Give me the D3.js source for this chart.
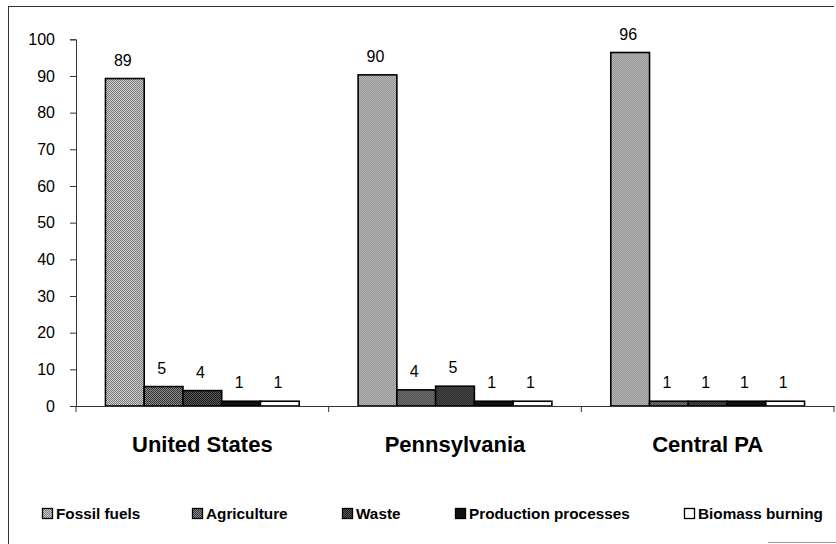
<!DOCTYPE html>
<html><head><meta charset="utf-8">
<script src="https://cdn.jsdelivr.net/npm/d3@7"></script>
<style>body{margin:0;background:#fff}svg{display:block;font-family:"Liberation Sans",Arial,sans-serif}</style>
</head><body>
<svg id="c" width="836" height="544"></svg>
<script>
const categories = ["United States", "Pennsylvania", "Central PA"];
const seriesNames = ["Fossil fuels", "Agriculture", "Waste", "Production processes", "Biomass burning"];
const fossilFuels = [89.3, 90.3, 96.4];
const agriculture = [5.3, 4.4, 1.3];
const waste = [4.2, 5.4, 1.3];
const productionProcesses = [1.3, 1.3, 1.3];
const biomassBurning = [1.3, 1.3, 1.3];
const yTicks = [0, 10, 20, 30, 40, 50, 60, 70, 80, 90, 100];

const seriesValues = [fossilFuels, agriculture, waste, productionProcesses, biomassBurning];
const fills = ["url(#pFossil)", "url(#pAgri)", "url(#pWaste)", "#111", "#fff"];

const svg = d3.select("#c");
const defs = svg.append("defs");
function checker(id, a, b) {
  const p = defs.append("pattern").attr("id", id).attr("width", 2).attr("height", 2).attr("patternUnits", "userSpaceOnUse");
  p.append("rect").attr("width", 2).attr("height", 2).attr("fill", a);
  p.append("rect").attr("width", 1).attr("height", 1).attr("fill", b);
  p.append("rect").attr("x", 1).attr("y", 1).attr("width", 1).attr("height", 1).attr("fill", b);
}
checker("pFossil", "#d0d0d0", "#7a7a7a");
checker("pAgri", "#8c8c8c", "#333");
checker("pWaste", "#5a5a5a", "#1a1a1a");

// frame (scanned border: top, left, partial bottom)
svg.append("line").attr("x1", 8).attr("x2", 834).attr("y1", 6.5).attr("y2", 6.5).attr("stroke", "#333");
svg.append("line").attr("x1", 8.5).attr("x2", 8.5).attr("y1", 6).attr("y2", 544).attr("stroke", "#333");
svg.append("line").attr("x1", 768).attr("x2", 836).attr("y1", 542.5).attr("y2", 542.5).attr("stroke", "#999");

const mLeft = 76, mRight = 834, mTop = 39.3, mBottom = 406;
const x0 = d3.scaleBand().domain(categories).range([mLeft, mRight]).paddingInner(0).paddingOuter(0);
const x1 = d3.scaleBand().domain(seriesNames).range([0, x0.bandwidth()]).paddingOuter(0.76).paddingInner(0);
const y = d3.scaleLinear().domain([0, 100]).range([mBottom, mTop]);

// y axis
const yAxis = svg.append("g").attr("transform", `translate(${mLeft},0)`)
  .call(d3.axisLeft(y).tickValues(yTicks).tickSize(6).tickPadding(15));
yAxis.select(".domain").attr("stroke", "#333");
yAxis.selectAll(".tick line").attr("stroke", "#333");
yAxis.selectAll("text").attr("font-size", 16).attr("fill", "#000").attr("font-family", "Liberation Sans, Arial, sans-serif");

// bars
const groups = svg.append("g").selectAll("g").data(categories).join("g")
  .attr("transform", d => `translate(${x0(d)},0)`);
groups.each(function(cat, ci) {
  const g = d3.select(this);
  seriesNames.forEach((s, si) => {
    const v = seriesValues[si][ci];
    g.append("rect").attr("x", x1(s)).attr("y", y(v)).attr("width", x1.bandwidth()).attr("height", y(0) - y(v))
      .attr("fill", fills[si]).attr("stroke", "#000").attr("stroke-width", 1.6);
    g.append("text").attr("x", x1(s) + x1.bandwidth() / 2 - 2).attr("y", y(v) - 13)
      .attr("text-anchor", "middle").attr("font-size", 16).text(Math.round(v));
  });
});

// x axis
const xAxis = svg.append("g").attr("transform", `translate(0,${mBottom})`)
  .call(d3.axisBottom(x0).tickSize(0).tickFormat(""));
xAxis.select(".domain").attr("stroke", "#333");
xAxis.selectAll(".tick").remove();
const bounds = [mLeft].concat(categories.map(c => x0(c) + x0.bandwidth()));
svg.append("g").selectAll("line").data(bounds).join("line")
  .attr("x1", d => d).attr("x2", d => d).attr("y1", mBottom).attr("y2", mBottom + 6).attr("stroke", "#333");

svg.append("g").selectAll("text").data(categories).join("text")
  .attr("x", d => x0(d) + x0.bandwidth() / 2).attr("y", 452)
  .attr("text-anchor", "middle").attr("font-size", 22).attr("font-weight", "bold").text(d => d);

// legend
const legendX = [42, 192, 342, 455, 684];
const lg = svg.append("g").selectAll("g").data(seriesNames).join("g")
  .attr("transform", (d, i) => `translate(${legendX[i]},519)`);
lg.append("rect").attr("x", 0.5).attr("y", -10.5).attr("width", 10).attr("height", 10)
  .attr("fill", (d, i) => fills[i]).attr("stroke", "#000").attr("stroke-width", 1.3);
lg.append("text").attr("x", 14).attr("y", 0).attr("font-size", 15.3).attr("font-weight", "bold").text(d => d);
</script>
</body></html>
